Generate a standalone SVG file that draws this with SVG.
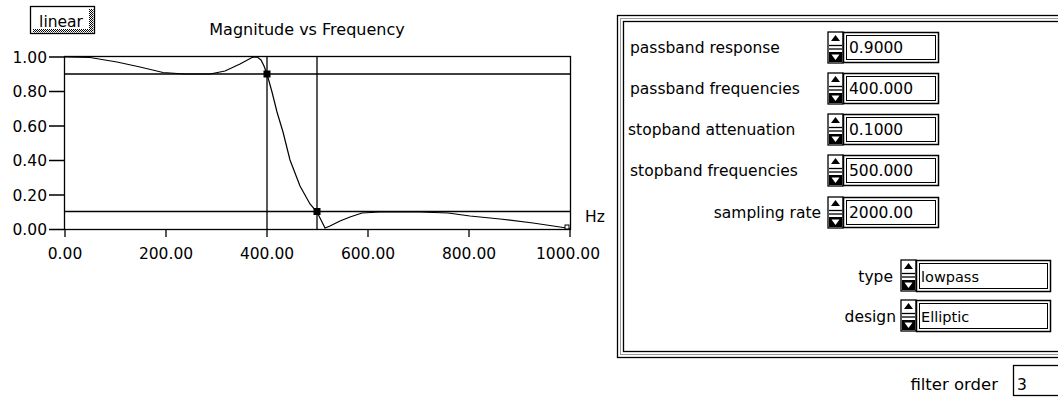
<svg xmlns="http://www.w3.org/2000/svg" width="1058" height="400" viewBox="0 0 1058 400">
<style>
text{font-family:"DejaVu Sans","Liberation Sans",sans-serif;font-size:15.5px;fill:#000}
.ln{stroke:#000;stroke-width:1.3;fill:none}
.th{stroke:#000;stroke-width:1.2;fill:none}
.mid{text-anchor:middle}
.end{text-anchor:end}
.box{fill:#fff;stroke:#000;stroke-width:1.5}
.inb{fill:none;stroke:#000;stroke-width:1}
.gr{fill:none;stroke:#999;stroke-width:1}
</style>
<defs>
<pattern id="dith" width="2" height="2" patternUnits="userSpaceOnUse">
<rect width="2" height="2" fill="#fff"/><rect width="1" height="1" fill="#000"/><rect x="1" y="1" width="1" height="1" fill="#000"/>
</pattern>
<g id="arrows">
<rect x="0" y="0" width="15" height="31" fill="#fff" stroke="#000" stroke-width="1.3"/>
<path d="M7.5,3 L3,9 L12,9 Z" fill="#000"/>
<line x1="1" y1="13.5" x2="14" y2="13.5" stroke="#000" stroke-width="1.3"/>
<line x1="1" y1="17" x2="14" y2="17" stroke="#000" stroke-width="1.3"/>
<rect x="1" y="20" width="13" height="10" fill="#000"/>
<path d="M7.5,28 L3.5,22.5 L11.5,22.5 Z" fill="#fff"/>
</g>
</defs>

<g id="linear-button">
<rect x="30.5" y="6.5" width="64" height="27" fill="#fff" stroke="#000" stroke-width="1.3"/>
<rect x="33" y="29" width="60" height="3.5" fill="url(#dith)"/>
<rect x="89" y="9" width="4.5" height="21" fill="url(#dith)"/>
<text x="61" y="27" class="mid">linear</text>
</g>

<g id="plot">
<text x="307" y="35" class="mid" style="font-size:16px">Magnitude vs Frequency</text>
<rect x="64.5" y="56.5" width="506" height="173" class="ln"/>
<g id="y-axis">
<text x="47" y="62.5" class="end">1.00</text>
<text x="47" y="97" class="end">0.80</text>
<text x="47" y="131.5" class="end">0.60</text>
<text x="47" y="166" class="end">0.40</text>
<text x="47" y="200.5" class="end">0.20</text>
<text x="47" y="235" class="end">0.00</text>
<path class="ln" d="M49,57 H64 M49,91.5 H64 M49,126 H64 M49,160.5 H64 M49,195 H64 M49,229.5 H64"/>
</g>
<g id="x-axis">
<path class="ln" d="M65,229 V237 M166,229 V237 M267,229 V237 M368,229 V237 M469,229 V237 M570,229 V237"/>
<text x="65" y="259" class="mid">0.00</text>
<text x="166" y="259" class="mid">200.00</text>
<text x="267" y="259" class="mid">400.00</text>
<text x="368" y="259" class="mid">600.00</text>
<text x="469" y="259" class="mid">800.00</text>
<text x="568" y="259" class="mid">1000.00</text>
<text x="585" y="222">Hz</text>
</g>
<g id="cursors">
<path class="ln" d="M64,74 H571 M64,211.5 H571 M267,56 V229 M317,56 V229"/>
</g>
<g id="curve">
<polyline class="th" points="64,57 90,57.5 117,62 140,67 163,72.5 185,74 210,74 225,71 240,64 252,57.5 257,56.8 261,60 264,66 267,74 272,92 277,112 283,132 290,160 300,186 310,204 317,212 321,220 325,228 330,226 340,221 350,217 362,213 380,212 420,212 448,213 470,216 500,219 533,223 560,227 570,228.5"/>
<rect x="263.5" y="70.5" width="7" height="7" fill="#000"/>
<rect x="313.5" y="208" width="7" height="7" fill="#000"/>
<rect x="565" y="225" width="4" height="4" fill="#fff" stroke="#000" stroke-width="1"/>
</g>
</g>

<g id="panel">
<rect x="617.5" y="15.5" width="460" height="342" fill="#fff" stroke="#000" stroke-width="1.3"/>
<rect x="620.5" y="18.5" width="454" height="336" class="gr"/>
<rect x="623.5" y="21.5" width="448" height="330" fill="none" stroke="#000" stroke-width="1.3"/>
</g>

<g id="passband-response">
<text x="630" y="53">passband response</text>
<use href="#arrows" x="828" y="32"/>
<rect x="843.5" y="32.5" width="95" height="30" class="box"/>
<rect x="846.5" y="35.5" width="89" height="24" class="inb"/>
<text x="849" y="53">0.9000</text>
</g>
<g id="passband-frequencies">
<text x="630" y="94">passband frequencies</text>
<use href="#arrows" x="828" y="73"/>
<rect x="843.5" y="73.5" width="95" height="30" class="box"/>
<rect x="846.5" y="76.5" width="89" height="24" class="inb"/>
<text x="849" y="94">400.000</text>
</g>
<g id="stopband-attenuation">
<text x="628" y="135">stopband attenuation</text>
<use href="#arrows" x="828" y="114"/>
<rect x="843.5" y="114.5" width="95" height="30" class="box"/>
<rect x="846.5" y="117.5" width="89" height="24" class="inb"/>
<text x="849" y="135">0.1000</text>
</g>
<g id="stopband-frequencies">
<text x="630" y="176">stopband frequencies</text>
<use href="#arrows" x="828" y="155"/>
<rect x="843.5" y="155.5" width="95" height="30" class="box"/>
<rect x="846.5" y="158.5" width="89" height="24" class="inb"/>
<text x="849" y="176">500.000</text>
</g>
<g id="sampling-rate">
<text x="821" y="218" class="end">sampling rate</text>
<use href="#arrows" x="828" y="197"/>
<rect x="843.5" y="197.5" width="95" height="30" class="box"/>
<rect x="846.5" y="200.5" width="89" height="24" class="inb"/>
<text x="849" y="218">2000.00</text>
</g>
<g id="type">
<text x="893" y="282" class="end">type</text>
<use href="#arrows" x="901" y="260"/>
<rect x="916.5" y="260.5" width="134" height="31" class="box"/>
<rect x="919.5" y="263.5" width="128" height="25" class="inb"/>
<text x="921" y="282" style="font-size:14.5px">lowpass</text>
</g>
<g id="design">
<text x="896" y="322" class="end">design</text>
<use href="#arrows" x="901" y="300"/>
<rect x="916.5" y="300.5" width="134" height="31" class="box"/>
<rect x="919.5" y="303.5" width="128" height="25" class="inb"/>
<text x="921" y="322" style="font-size:14.5px">Elliptic</text>
</g>
<g id="filter-order">
<text x="998" y="390" class="end" style="font-size:16.5px">filter order</text>
<rect x="1013.5" y="365.5" width="60" height="30" fill="#fff" stroke="#000" stroke-width="1.3"/>
<text x="1017" y="390">3</text>
</g>
</svg>
